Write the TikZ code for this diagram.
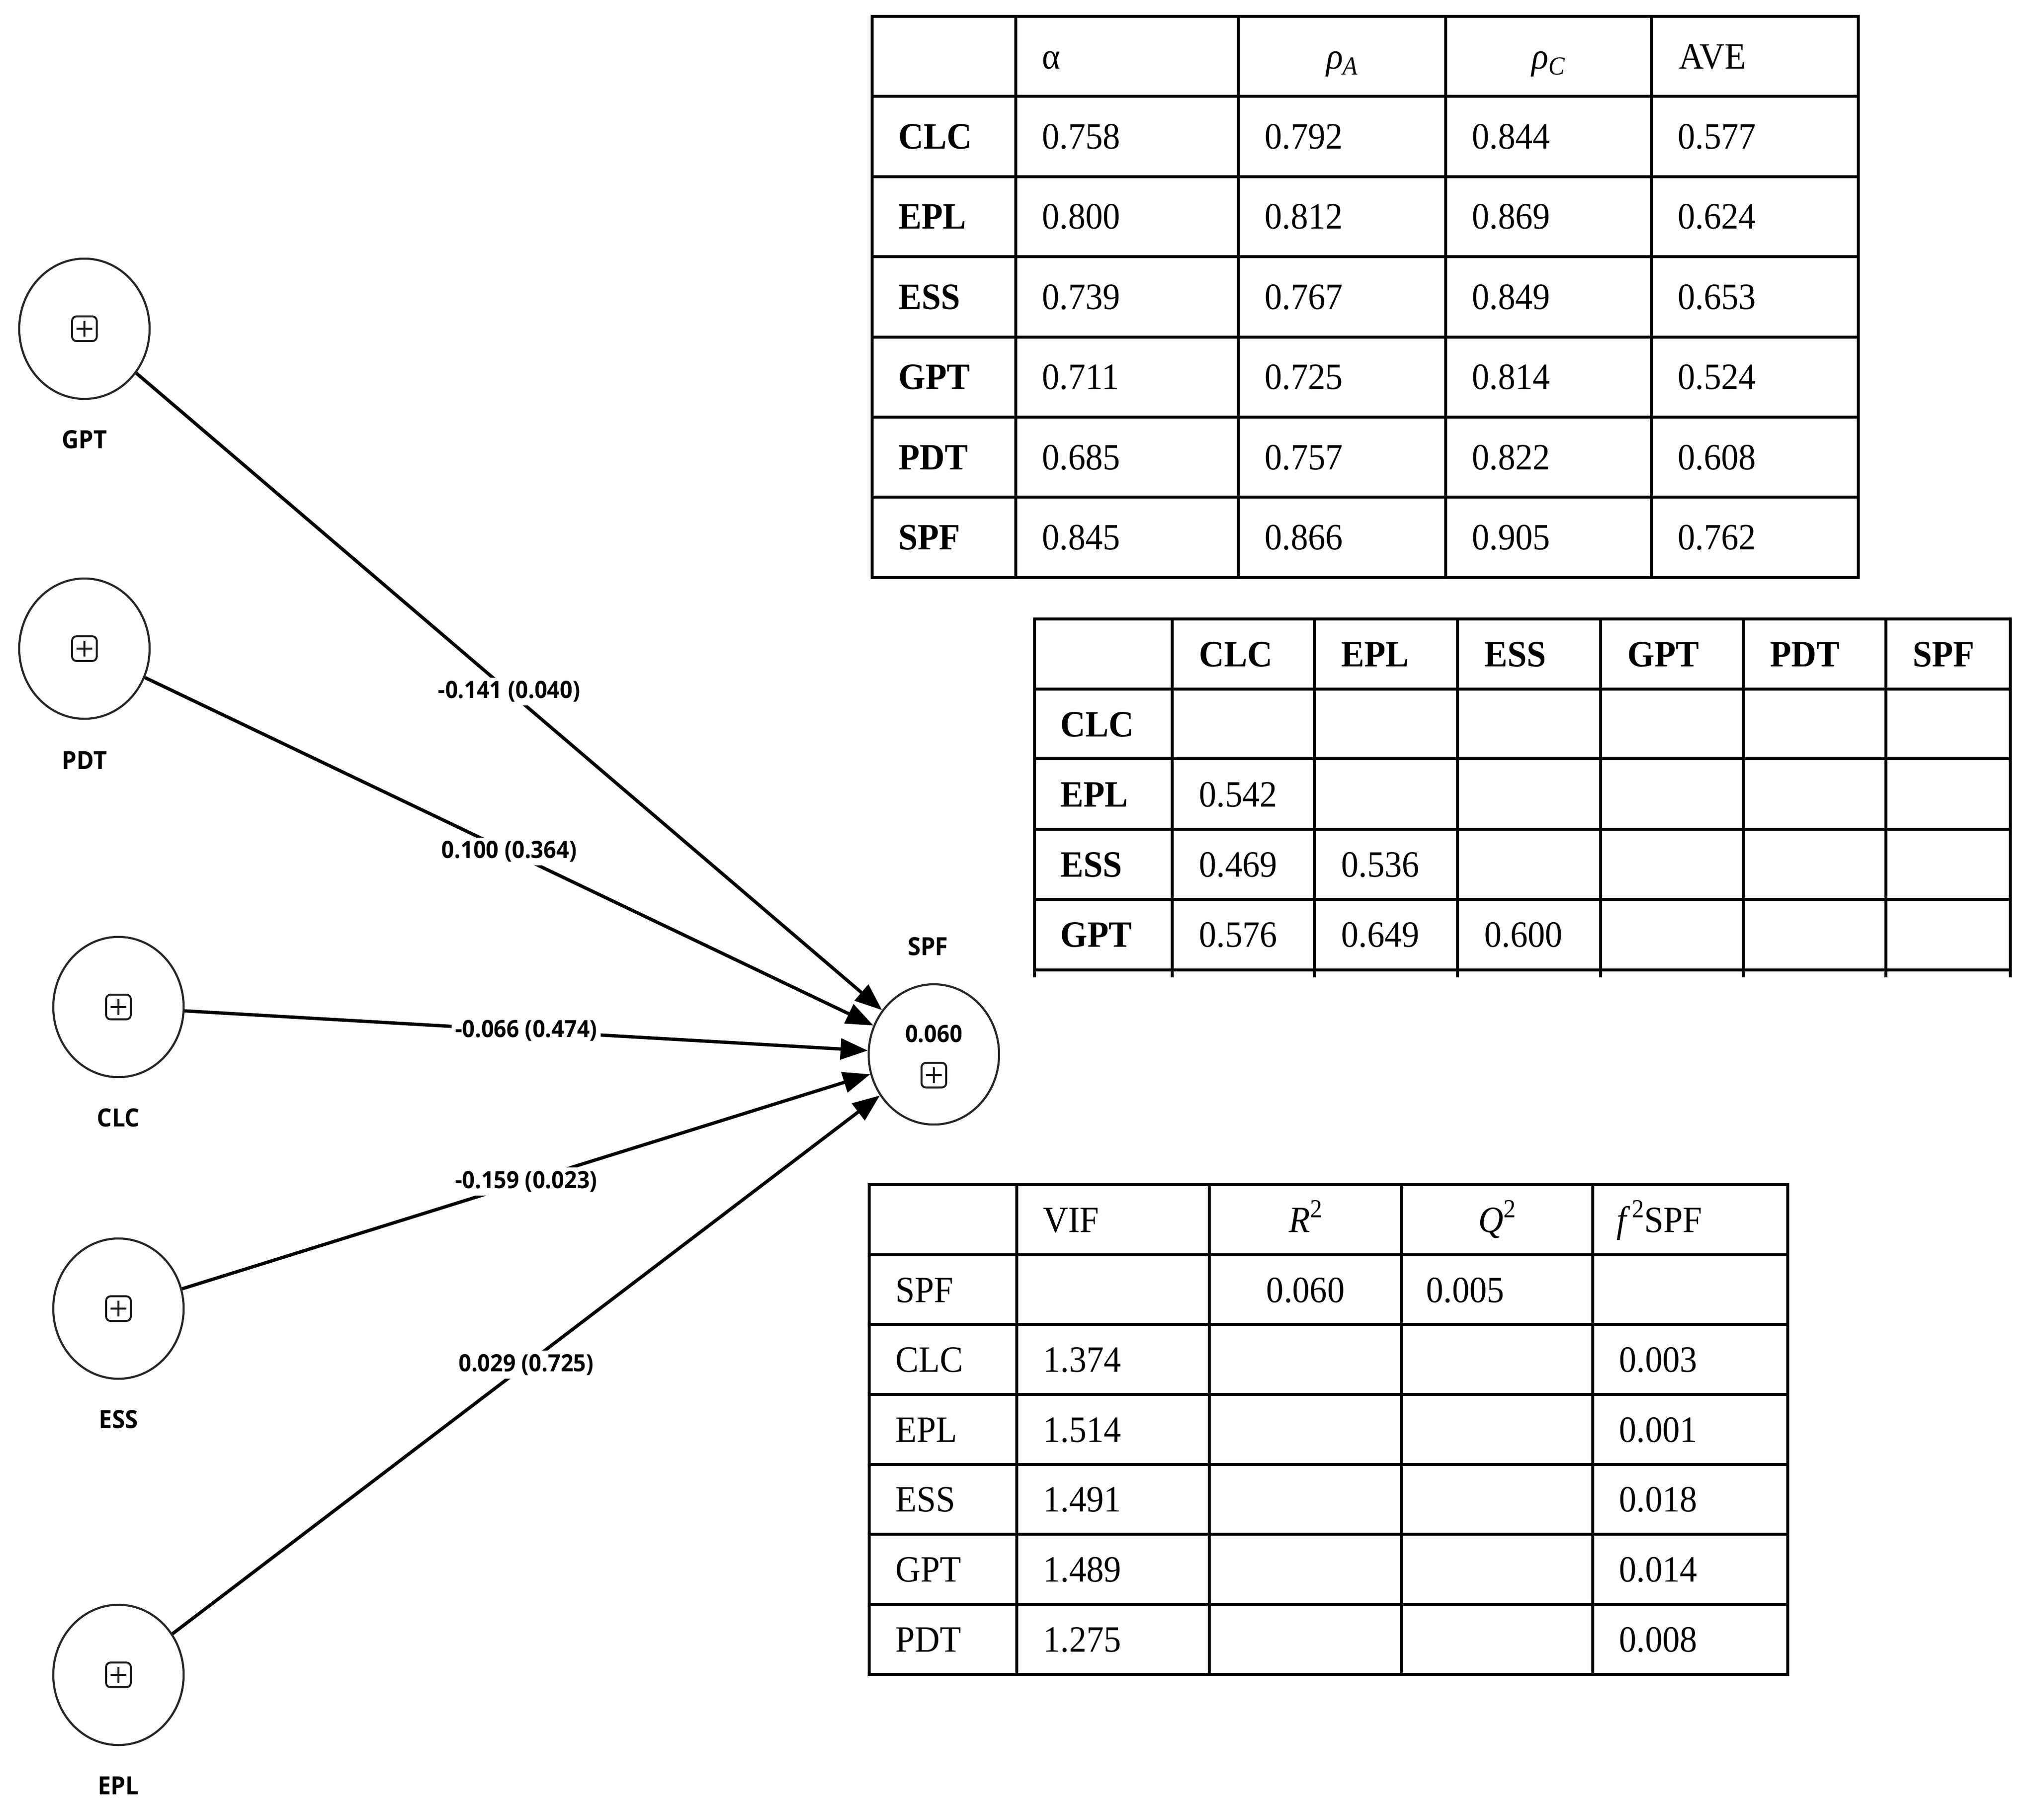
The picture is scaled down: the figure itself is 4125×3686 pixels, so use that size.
\RequirePackage{fix-cm}
\documentclass[tikz,border=0pt]{standalone}
\usepackage{fontspec}
\usepackage{graphicx}
\setmainfont{Liberation Serif}
\newfontfamily\lblfont{Open Sans}
\usetikzlibrary{shapes.geometric,arrows.meta}
\newcommand{\vst}[1]{\scalebox{1}[1.07]{#1}}
\newcommand{\sbs}[1]{\raisebox{-0.35ex}{\fontsize{14}{16}\selectfont\textit{#1}}}
\newcommand{\sps}[1]{\raisebox{0.85ex}{\fontsize{14}{16}\selectfont #1}}
\begin{document}
\begin{tikzpicture}[x=0.01cm,y=-0.01cm,
  latent/.style={ellipse, draw=black!85, line width=1.2pt, minimum width=2.64cm, minimum height=2.84cm, inner sep=0pt},
  bplus/.style={draw=black!90, rounded corners=0.09cm, minimum size=0.5cm, inner sep=0pt, line width=1.1pt,
    path picture={\draw[line width=1.1pt,sharp corners] ([xshift=-0.16cm]path picture bounding box.center) -- ([xshift=0.16cm]path picture bounding box.center);
                  \draw[line width=1.1pt,sharp corners] ([yshift=-0.16cm]path picture bounding box.center) -- ([yshift=0.16cm]path picture bounding box.center);}},
  nlabel/.style={font=\lblfont\bfseries\fontsize{13.5}{16}\selectfont, inner sep=0pt},
  elab/.style={fill=white, inner sep=0.07cm, font=\lblfont\bfseries\fontsize{12.8}{15}\selectfont},
  vlab/.style={inner sep=0pt, font=\lblfont\bfseries\fontsize{12.8}{15}\selectfont},
  edge/.style={line width=1.9pt, -{Triangle[length=0.55cm,width=0.42cm]}},
  grid/.style={line width=1.8pt, line cap=rect},
  tl/.style={anchor=base west, inner sep=0pt, font=\fontsize{20}{24}\selectfont},
  tc/.style={anchor=base, inner sep=0pt, font=\fontsize{20}{24}\selectfont},
  tb/.style={anchor=base west, inner sep=0pt, font=\fontsize{20}{24}\selectfont\bfseries}
]
\useasboundingbox (0,0) rectangle (4125,3686);

% ---------------- path model ----------------
\node[latent] (GPT) at (171,666) {};
\node[latent] (PDT) at (171,1314) {};
\node[latent] (CLC) at (240,2040) {};
\node[latent] (ESS) at (240,2651) {};
\node[latent] (EPL) at (240,3393) {};
\node[latent] (SPF) at (1892,2136) {};

\node[bplus] (GPTb) at (GPT.center) {};
\node[bplus] (PDTb) at (PDT.center) {};
\node[bplus] (CLCb) at (CLC.center) {};
\node[bplus] (ESSb) at (ESS.center) {};
\node[bplus] (EPLb) at (EPL.center) {};
\node[bplus] (SPFb) at (1892,2178) {};
\node[vlab] (SPFv) at (1892,2094) {\vst{0.060}};

\node[nlabel] (GPTl) at (171,890) {\vst{GPT}};
\node[nlabel] (PDTl) at (171,1540) {\vst{PDT}};
\node[nlabel] (CLCl) at (240,2264) {\vst{CLC}};
\node[nlabel] (ESSl) at (240,2875) {\vst{ESS}};
\node[nlabel] (EPLl) at (240,3617) {\vst{EPL}};
\node[nlabel] (SPFl) at (1880,1917) {\vst{SPF}};

\draw[edge] (GPT) -- node[elab] (e1) {\vst{-0.141 (0.040)}} (SPF);
\draw[edge] (PDT) -- node[elab] (e2) {\vst{0.100 (0.364)}} (SPF);
\draw[edge] (CLC) -- node[elab] (e3) {\vst{-0.066 (0.474)}} (SPF);
\draw[edge] (ESS) -- node[elab] (e4) {\vst{-0.159 (0.023)}} (SPF);
\draw[edge] (EPL) -- node[elab] (e5) {\vst{0.029 (0.725)}} (SPF);

% ---------------- table 1 ----------------
\foreach \x in {1767,2058,2509,2929,3346,3765} \draw[grid] (\x,33) -- (\x,1170);
\foreach \y in {33,195,358,520,683,845,1007,1170} \draw[grid] (1767,\y) -- (3765,\y);
\node[tl] (t1h1) at (2111,139) {\vst{α}};
\node[tc] (t1h2) at (2719,139) {\vst{\textit{ρ}\sbs{A}}};
\node[tc] (t1h3) at (3137,139) {\vst{\textit{ρ}\sbs{C}}};
\node[tl] (t1h4) at (3401,139) {\vst{AVE}};
\foreach \lab/\a/\b/\c/\d [count=\i] in {CLC/0.758/0.792/0.844/0.577, EPL/0.800/0.812/0.869/0.624, ESS/0.739/0.767/0.849/0.653, GPT/0.711/0.725/0.814/0.524, PDT/0.685/0.757/0.822/0.608, SPF/0.845/0.866/0.905/0.762}{
  \pgfmathsetmacro{\yb}{114+162.43*\i+25}
  \node[tb] (t1r\i) at (1820,\yb) {\vst{\lab}};
  \node[tl] (t1a\i) at (2111,\yb) {\vst{\a}};
  \node[tl] (t1b\i) at (2562,\yb) {\vst{\b}};
  \node[tl] (t1c\i) at (2982,\yb) {\vst{\c}};
  \node[tl] (t1d\i) at (3399,\yb) {\vst{\d}};
}

% ---------------- table 2 ----------------
\foreach \x in {2096,2375,2663,2953,3243,3532,3821,4073} \draw[line width=1.8pt] (\x,1254) -- (\x,1980);
\foreach \y in {1254,1396,1537,1680,1822,1965} \draw[grid] (2096,\y) -- (4073,\y);
\foreach \lab/\xx [count=\i] in {CLC/2429, EPL/2717, ESS/3007, GPT/3297, PDT/3586, SPF/3875}{
  \node[tb] (t2h\i) at (\xx,1350) {\vst{\lab}};
}
\foreach \lab [count=\i] in {CLC, EPL, ESS, GPT}{
  \pgfmathsetmacro{\yb}{1325+142.2*\i+25}
  \node[tb] (t2r\i) at (2148,\yb) {\vst{\lab}};
}
\node[tl] (t2v1) at (2429,1634) {\vst{0.542}};
\node[tl] (t2v2) at (2429,1776) {\vst{0.469}};
\node[tl] (t2v3) at (2717,1776) {\vst{0.536}};
\node[tl] (t2v4) at (2429,1918) {\vst{0.576}};
\node[tl] (t2v5) at (2717,1918) {\vst{0.649}};
\node[tl] (t2v6) at (3007,1918) {\vst{0.600}};

% ---------------- table 3 ----------------
\foreach \x in {1761,2060,2450,2839,3227,3622} \draw[grid] (\x,2400) -- (\x,3392);
\foreach \y in {2400,2542,2683,2825,2967,3108,3250,3392} \draw[grid] (1761,\y) -- (3622,\y);
\node[tl] (t3h1) at (2113,2496) {\vst{VIF}};
\node[tc] (t3h2) at (2645,2496) {\vst{\textit{R}\sps{2}}};
\node[tc] (t3h3) at (3033,2496) {\vst{\textit{Q}\sps{2}}};
\node[tl] (t3h4) at (3275,2496) {\vst{\textit{f}\kern1pt\sps{2}SPF}};
\node[tl] (t3r0) at (1814,2638) {\vst{SPF}};
\node[tc] (t3s1) at (2645,2638) {\vst{0.060}};
\node[tl] (t3s2) at (2889,2638) {\vst{0.005}};
\foreach \lab/\v/\f [count=\i] in {CLC/1.374/0.003, EPL/1.514/0.001, ESS/1.491/0.018, GPT/1.489/0.014, PDT/1.275/0.008}{
  \pgfmathsetmacro{\yb}{2471+141.7*(\i+1)+25}
  \node[tl] (t3r\i) at (1814,\yb) {\vst{\lab}};
  \node[tl] (t3v\i) at (2113,\yb) {\vst{\v}};
  \node[tl] (t3f\i) at (3280,\yb) {\vst{\f}};
}
\end{tikzpicture}
\end{document}
